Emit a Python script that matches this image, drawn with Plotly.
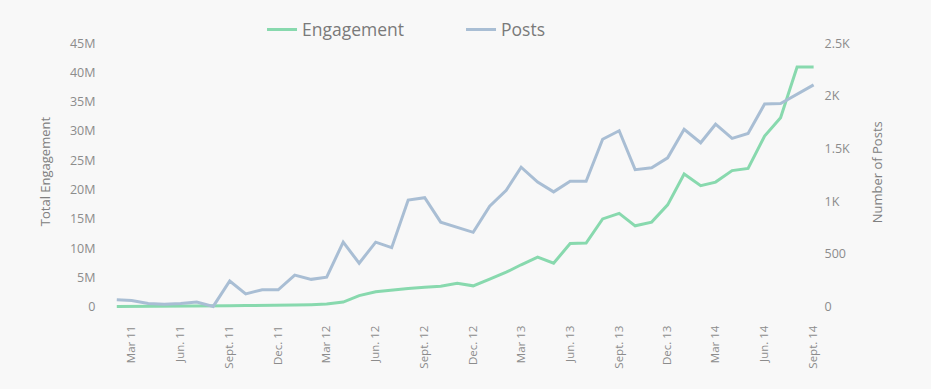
import pandas as pd
import plotly.graph_objects as go

# Monthly series, Feb 2011 - Sept 2014
months = pd.date_range("2011-02-01", "2014-09-01", freq="MS")

engagement_millions = [
    0.05, 0.05, 0.05, 0.05, 0.08, 0.10, 0.10, 0.15, 0.20, 0.20, 0.25,
    0.30, 0.35, 0.45, 0.80, 1.90, 2.57, 2.90, 3.12, 3.32, 3.49, 3.99,
    3.57, 4.73, 5.90, 7.17, 8.47, 7.44, 10.79, 10.88, 15.00, 15.94, 13.82,
    14.45, 17.40, 22.67, 20.67, 21.29, 23.25, 23.63, 29.14, 32.30, 40.93, 40.93,
]
engagement = [v * 1e6 for v in engagement_millions]

posts = [
    66, 60, 30, 23, 30, 44, 3, 244, 122, 161, 161,
    300, 260, 281, 613, 413, 613, 561, 1013, 1035, 803, 752,
    706, 955, 1105, 1324, 1183, 1090, 1190, 1190, 1589, 1670, 1301,
    1319, 1413, 1684, 1556, 1732, 1598, 1644, 1923, 1928, 2016, 2105,
]

x_tick_dates = [
    "2011-03-01", "2011-06-01", "2011-09-01", "2011-12-01",
    "2012-03-01", "2012-06-01", "2012-09-01", "2012-12-01",
    "2013-03-01", "2013-06-01", "2013-09-01", "2013-12-01",
    "2014-03-01", "2014-06-01", "2014-09-01",
]
x_tick_labels = [
    "Mar 11", "Jun. 11", "Sept. 11", "Dec. 11",
    "Mar 12", "Jun. 12", "Sept. 12", "Dec. 12",
    "Mar 13", "Jun. 13", "Sept. 13", "Dec. 13",
    "Mar 14", "Jun. 14", "Sept. 14",
]

left_tick_values = [0, 5e6, 10e6, 15e6, 20e6, 25e6, 30e6, 35e6, 40e6, 45e6]
left_tick_labels = ["0", "5M", "10M", "15M", "20M", "25M", "30M", "35M", "40M", "45M"]
right_tick_values = [0, 500, 1000, 1500, 2000, 2500]
right_tick_labels = ["0", "500", "1K", "1.5K", "2K", "2.5K"]

GREEN = "#88d9ae"
BLUE = "#a9bed4"
TICK_COLOR = "#8c8c8c"
FONT = "'Open Sans', Lato, sans-serif"
BG = "#f8f8f8"

# both value axes share the same pixel span: 45M on the left equals 2.5K on the right
left_range = [-1.58e6, 45.9e6]
right_range = [v * 2500 / 45e6 for v in left_range]

fig = go.Figure()
fig.add_trace(go.Scatter(
    x=months, y=engagement, name="Engagement", mode="lines",
    line=dict(color=GREEN, width=3), yaxis="y", legendrank=1,
))
fig.add_trace(go.Scatter(
    x=months, y=posts, name="Posts", mode="lines",
    line=dict(color=BLUE, width=3), yaxis="y2", legendrank=2,
))

fig.update_layout(
    width=931, height=389,
    margin=dict(l=104, r=111, t=30, b=73, pad=0),
    paper_bgcolor=BG,
    plot_bgcolor=BG,
    font=dict(family=FONT, color=TICK_COLOR),
    showlegend=True,
    legend=dict(
        orientation="h", x=0.2207, xanchor="left", y=1.03, yanchor="middle",
        font=dict(size=17.5, color="#7a7a7a", family=FONT),
        entrywidth=154, entrywidthmode="pixels",
        bgcolor="rgba(0,0,0,0)",
    ),
    xaxis=dict(
        type="date", range=["2011-01-08", "2014-09-13"],
        tickmode="array", tickvals=x_tick_dates, ticktext=x_tick_labels,
        tickangle=-90, tickfont=dict(size=11.5, color=TICK_COLOR),
        showgrid=False, zeroline=False, showline=False,
        ticks="outside", ticklen=4, tickcolor="rgba(0,0,0,0)",
    ),
    yaxis=dict(
        range=left_range, tickmode="array",
        tickvals=left_tick_values, ticktext=left_tick_labels,
        tickfont=dict(size=12.5, color=TICK_COLOR),
        showgrid=False, zeroline=False, showline=False,
        ticks="outside", ticklen=5, tickcolor="rgba(0,0,0,0)",
    ),
    yaxis2=dict(
        range=right_range, overlaying="y", side="right", tickmode="array",
        tickvals=right_tick_values, ticktext=right_tick_labels,
        tickfont=dict(size=12.5, color=TICK_COLOR),
        showgrid=False, zeroline=False, showline=False,
        ticks="outside", ticklen=1, tickcolor="rgba(0,0,0,0)",
    ),
    annotations=[
        dict(text="Total Engagement", xref="paper", yref="paper",
             x=-0.0824, y=0.521, textangle=-90, showarrow=False,
             xanchor="center", yanchor="middle",
             font=dict(size=13, color="#808080", family=FONT)),
        dict(text="Number of Posts", xref="paper", yref="paper",
             x=1.0796, y=0.517, textangle=-90, showarrow=False,
             xanchor="center", yanchor="middle",
             font=dict(size=13, color="#808080", family=FONT)),
    ],
)

fig.write_html("out.html")
